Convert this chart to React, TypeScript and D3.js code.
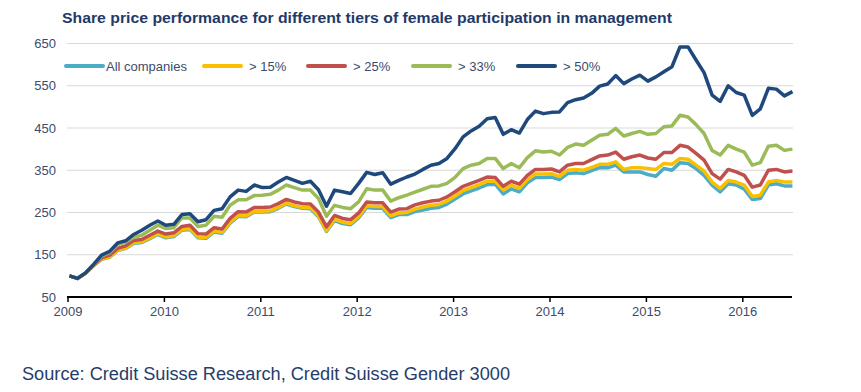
import React from "react";
import * as d3 from "d3";

const title = "Share price performance for different tiers of female participation in management";
const sourceText = "Source: Credit Suisse Research, Credit Suisse Gender 3000";
const seriesNames = ["All companies", "> 15%", "> 25%", "> 33%", "> 50%"];
const seriesColors = ["#4bacc6", "#fac000", "#c0504d", "#9bbb59", "#1f497d"];
const yTicks = [50, 150, 250, 350, 450, 550, 650];
const xTicks = [2009, 2010, 2011, 2012, 2013, 2014, 2015, 2016];
const startYear = 2009;

const allCompanies = [
  100, 94, 106, 124, 139, 144, 160, 165, 177, 179,
  188, 198, 190, 193, 208, 210, 190, 189, 204, 201,
  225, 241, 240, 251, 251, 252, 260, 270, 264, 260,
  259, 240, 205, 231, 224, 221, 237, 262, 260, 260,
  238, 245, 245, 252, 256, 260, 262, 270, 282, 294,
  301, 308, 316, 317, 294, 306, 299, 320, 333, 333,
  334, 328, 342, 344, 342, 349, 356, 356, 362, 346,
  346, 346, 340, 336, 354, 350, 368, 366, 354, 338,
  315, 299, 318, 315, 305, 281, 283, 315, 318, 313,
  313,
];
const over15 = [
  100, 94, 106, 124, 140, 145, 161, 166, 179, 181,
  190, 200, 192, 195, 210, 212, 192, 191, 206, 203,
  227, 243, 242, 253, 253, 254, 262, 272, 266, 262,
  261, 242, 207, 234, 227, 224, 240, 266, 264, 264,
  242, 249, 250, 258, 263, 267, 269, 277, 289, 302,
  309, 316, 324, 324, 304, 314, 307, 328, 341, 341,
  342, 335, 350, 352, 350, 357, 364, 364, 370, 352,
  356, 356, 354, 352, 366, 364, 378, 376, 362, 348,
  322, 307, 326, 322, 315, 288, 291, 322, 326, 322,
  322,
];
const over25 = [
  100, 94, 106, 125, 143, 149, 165, 171, 184, 186,
  196, 206, 199, 202, 217, 220, 200, 199, 214, 211,
  236, 252, 251, 262, 262, 263, 271, 281, 275, 271,
  270, 251, 216, 243, 236, 233, 249, 275, 273, 273,
  251, 258, 259, 268, 273, 277, 279, 287, 299, 312,
  319, 326, 334, 333, 312, 324, 317, 338, 352, 352,
  353, 346, 362, 366, 366, 375, 384, 386, 393, 376,
  382, 386, 379, 376, 392, 392, 409, 405, 390, 374,
  342, 329, 352, 346, 338, 310, 315, 350, 352, 346,
  348,
];
const over33 = [
  100, 94, 107, 126, 147, 155, 174, 180, 191, 196,
  208, 220, 212, 214, 237, 237, 217, 220, 241, 239,
  267, 280, 280, 290, 291, 293, 303, 315, 309, 303,
  303, 283, 241, 267, 262, 259, 275, 306, 303, 303,
  277, 285, 291, 298, 305, 312, 313, 319, 333, 354,
  362, 366, 378, 378, 354, 366, 356, 380, 396, 393,
  395, 386, 404, 412, 409, 421, 433, 435, 449, 431,
  437, 442, 435, 437, 453, 455, 480, 476, 458, 437,
  397, 386, 409, 400, 393, 362, 368, 407, 409, 397,
  400,
];
const over50 = [
  100, 94, 107, 127, 149, 158, 178, 183, 198, 208,
  220, 230, 220, 222, 245, 247, 228, 233, 255, 259,
  287, 303, 300, 315, 309, 310, 322, 333, 326, 319,
  324, 304, 265, 303, 299, 295, 319, 345, 340, 344,
  317, 326, 334, 341, 352, 362, 366, 378, 401, 429,
  443, 454, 472, 475, 435, 446, 438, 470, 490, 484,
  487, 488, 510, 517, 521, 532, 549, 554, 574, 555,
  566, 575, 561, 571, 583, 595, 642, 642, 611, 581,
  528, 513, 550, 534, 528, 480, 495, 544, 542, 526,
  536,
];

const seriesValues = [allCompanies, over15, over25, over33, over50];

const W = 861;
const H = 392;
const FONT = "'Liberation Sans', Arial, Helvetica, sans-serif";
const LABEL_COLOR = "#3d4b6b";

export default function App() {
  const x = d3.scaleLinear().domain([2009, 2016.5]).range([68, 791]);
  const y = d3.scaleLinear().domain([50, 650]).range([297, 43.5]);

  const line = d3
    .line<number>()
    .x((_, i) => x(startYear + i / 12 + 0.015))
    .y((d) => y(d))
    .curve(d3.curveLinear);

  const legendSwatchX = [64, 202, 306, 411, 516];

  return (
    <svg
      width={W}
      height={H}
      style={{ position: "absolute", left: 0, top: 0, background: "#ffffff" }}
      fontFamily={FONT}
    >
      <rect x={0} y={0} width={W} height={H} fill="#ffffff" />
      <text
        x={62}
        y={23}
        fontSize={15.5}
        fontWeight="bold"
        fill="#1f3a68"
        textLength={610}
        lengthAdjust="spacingAndGlyphs"
      >
        {title}
      </text>

      {/* gridlines */}
      {yTicks.filter((t) => t > 50).map((t) => (
        <line key={t} x1={67} x2={793} y1={y(t)} y2={y(t)} stroke="#d9d9d9" strokeWidth={1} />
      ))}

      {/* y labels */}
      {yTicks.map((t) => (
        <text key={t} x={56} y={y(t)} dy="0.35em" textAnchor="end" fontSize={13} fill={LABEL_COLOR}>
          {t}
        </text>
      ))}

      {/* series */}
      {seriesValues.map((vals, si) => (
        <path
          key={si}
          d={line(vals) || ""}
          fill="none"
          stroke={seriesColors[si]}
          strokeWidth={3.5}
          strokeLinejoin="round"
          strokeLinecap="butt"
        />
      ))}

      {/* x axis */}
      <line x1={67} x2={792} y1={y(50)} y2={y(50)} stroke="#000" strokeWidth={2} />
      {xTicks.map((t) => (
        <g key={t}>
          <line x1={x(t)} x2={x(t)} y1={y(50)} y2={y(50) + 5} stroke="#000" strokeWidth={1.5} />
          <text x={x(t)} y={y(50) + 19} textAnchor="middle" fontSize={13} fill={LABEL_COLOR}>
            {t}
          </text>
        </g>
      ))}

      {/* legend */}
      {seriesNames.map((name, i) => (
        <g key={name}>
          <line
            x1={legendSwatchX[i] + 2}
            x2={legendSwatchX[i] + 39}
            y1={66}
            y2={66}
            stroke={seriesColors[i]}
            strokeWidth={4}
            strokeLinecap="round"
          />
          <text x={legendSwatchX[i] + (i === 0 ? 42 : 47)} y={66} dy="0.35em" fontSize={13} fill={LABEL_COLOR}>
            {name}
          </text>
        </g>
      ))}

      <text x={22} y={380} fontSize={17.5} fill="#263d6b" textLength={488} lengthAdjust="spacingAndGlyphs">
        {sourceText}
      </text>
    </svg>
  );
}
